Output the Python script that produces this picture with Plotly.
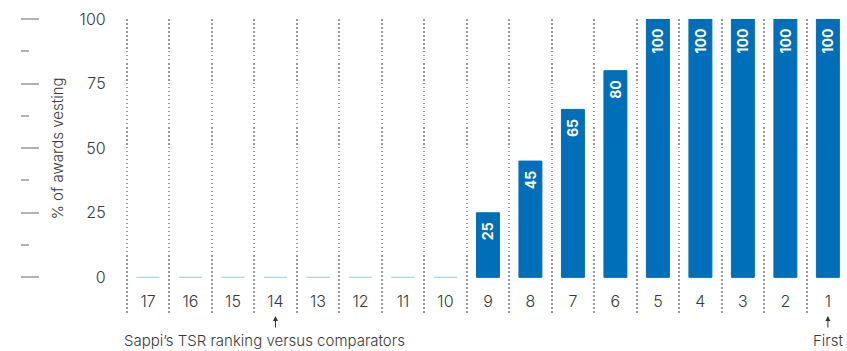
import plotly.graph_objects as go

rankings = ["17", "16", "15", "14", "13", "12", "11", "10", "9", "8", "7", "6", "5", "4", "3", "2", "1"]
vesting = [0, 0, 0, 0, 0, 0, 0, 0, 25, 45, 65, 80, 100, 100, 100, 100, 100]
y_ticks = [0, 25, 50, 75, 100]
y_minor = [12.5, 37.5, 62.5, 87.5]
y_title = "% of awards vesting"
x_title = "Sappi’s TSR ranking versus comparators"
arrow_marks = ["14", "1"]
first_label = "First"

BLUE = "#006fb9"
ZERO_BLUE = "#b5d3ec"
TXT = "#3a3a3a"
FONT = "Inter"

W, H = 847, 351
ML, MR, MT, MB = 0, 0, 19, 38
CAT = 42.5
XR = [-0.62, 16.45]
x0_px = 126.75 + (XR[0] + 0.5) * CAT
YR = [-13.8, 100]

labels = [f"{v}\u00a0\u00a0" if v > 0 else "" for v in vesting]
line_cols = [BLUE if v > 0 else ZERO_BLUE for v in vesting]

fig = go.Figure()
fig.add_trace(go.Bar(
    x=rankings, y=vesting,
    marker=dict(color=BLUE, line=dict(color=line_cols, width=1)),
    text=labels, textposition="inside", insidetextanchor="end",
    textangle=-90, constraintext="none",
    textfont=dict(color="white", size=14, family=FONT, weight=700),
    hoverinfo="skip", showlegend=False,
))
fig.add_trace(go.Scatter(x=[], y=[], yaxis="y2", showlegend=False))

fig.update_layout(
    width=W, height=H,
    margin=dict(l=ML, r=MR, t=MT, b=MB),
    paper_bgcolor="white", plot_bgcolor="white",
    bargap=0.46,
    font=dict(family=FONT, color=TXT, size=15, weight=300),
    xaxis=dict(
        domain=[x0_px / W, 1], range=XR,
        type="category", tickson="boundaries",
        showgrid=True, griddash="1.5px,2.5px", gridcolor="#999999", gridwidth=1.5,
        ticks="", showline=False, zeroline=False,
        ticklabelposition="inside", ticklabelstandoff=0,
        tickfont=dict(size=16, color=TXT),
    ),
    yaxis=dict(
        range=YR, tickvals=y_ticks, showgrid=False, zeroline=False,
        showline=False, ticks="", ticklabelstandoff=int(round(20 - (126.75 - x0_px))),
        tickfont=dict(size=16, color=TXT),
    ),
    yaxis2=dict(
        overlaying="y", anchor="free", side="right", position=20 / W,
        range=YR, tickvals=y_ticks, showticklabels=False,
        ticks="outside", ticklen=18, tickwidth=1.5, tickcolor="#b4b4b4",
        minor=dict(tickvals=y_minor, ticks="outside", ticklen=8,
                   tickwidth=1.5, tickcolor="#b4b4b4"),
        showgrid=False, zeroline=False, showline=False,
    ),
)

plot_h = H - MT - MB
def py(px):
    return (H - MB - px) / plot_h

annots = [
    dict(text=y_title, textangle=-90, xref="paper", x=57 / W, xanchor="center",
         yref="y", y=50, yanchor="middle", showarrow=False, font=dict(size=15)),
    dict(text=x_title, xref="paper", x=122 / W, xanchor="left",
         yref="paper", y=py(340), yanchor="middle", showarrow=False, font=dict(size=15)),
    dict(text=first_label, xref="x", x=rankings.index("1"), xanchor="center",
         yref="paper", y=py(340), yanchor="middle", showarrow=False, font=dict(size=15)),
]
for m in arrow_marks:
    annots.append(dict(text="", xref="x", x=rankings.index(m), yref="paper", y=py(316),
                       showarrow=True, ax=0, ay=13, arrowhead=2, arrowsize=1,
                       arrowwidth=1, arrowcolor="#333"))
fig.update_layout(annotations=annots)

fig.write_html("out.html")
